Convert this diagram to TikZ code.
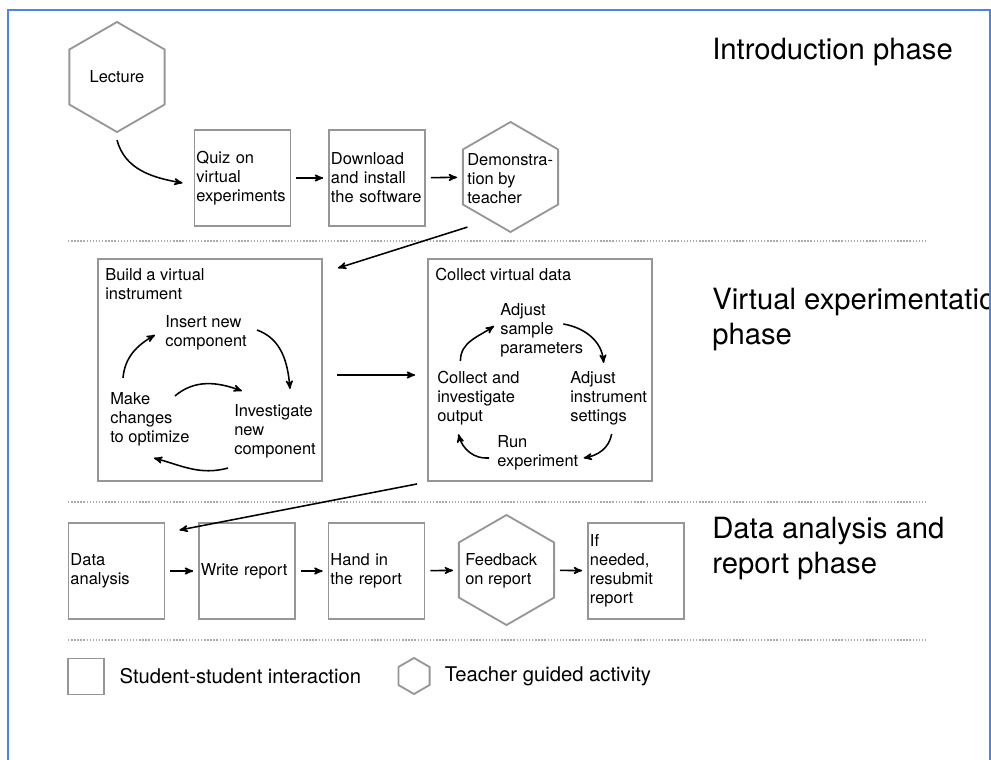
\documentclass[tikz,border=0pt]{standalone}
\usepackage{fontspec}
\setmainfont{TeX Gyre Heros}
\usetikzlibrary{arrows,shapes.geometric,positioning}

\definecolor{frameblue}{RGB}{74,134,232}
\definecolor{boxgray}{RGB}{150,150,150}
\definecolor{dotgray}{RGB}{170,170,170}
\newcommand{\cellfont}{\fontsize{11.7}{13.5}\selectfont\hyphenpenalty=10000\relax}
\newcommand{\keyfont}{\fontsize{14.4}{17}\selectfont}
\newcommand{\phasefont}{\fontsize{20.8}{24.9}\selectfont}

\begin{document}
\begin{tikzpicture}[x=0.025cm,y=0.025cm,>=stealth',
    box/.style={draw=boxgray,line width=1.3pt,minimum width=2.4cm,minimum height=2.4cm,
                text width=2.3cm,inner sep=0.05cm,align=left,font=\cellfont},
    group/.style={draw=boxgray,line width=1.3pt,minimum width=5.6cm,minimum height=5.55cm},
    hexa/.style={regular polygon,regular polygon sides=6,shape border rotate=30,
                 draw=boxgray,line width=1.3pt,minimum size=2.75cm,inner sep=0pt},
    txt/.style={align=left,inner sep=0pt,font=\cellfont},
    phase/.style={anchor=west,align=left,inner sep=0pt,font=\phasefont},
    flow/.style={->,line width=1.1pt,shorten <=3.5pt,shorten >=3.5pt},
    turn/.style={->,line width=1.1pt},
    sep/.style={draw=dotgray,line width=1pt,dash pattern=on 1pt off 1.2pt}]
  \useasboundingbox (0,0) rectangle (991,-760);

  % introduction phase
  \node[hexa,font=\cellfont] (lec) at (117,-77) {Lecture};
  \node[box] (quiz) at (242.5,-178) {Quiz on\\virtual\\experiments};
  \node[box] (down) at (377,-178) {Download\\and install\\the software};
  \node[hexa] (demo) at (510.5,-177) {};
  \node[txt,anchor=west] (demot) at (467,-179) {Demonstra-\\tion by\\teacher};
  \draw[turn] ([shift={(0,-7)}]lec.south) to[out=-75,in=170] ([shift={(-11,-5)}]quiz.west);
  \draw[flow] (quiz) -- (down);
  \draw[flow] (down) -- (demo);
  \draw[sep] (68,-241) -- (928,-241);

  % virtual experimentation phase
  \node[group] (build) at (210,-370) {};
  \node[txt,anchor=north west] (buildt) at ([shift={(8,-10)}]build.north west) {Build a virtual\\instrument};
  \node[txt,anchor=west] (ins) at (165,-333) {Insert new\\component};
  \node[txt,anchor=west] (inv) at (234,-431) {Investigate\\new\\component};
  \node[txt,anchor=west] (mak) at (110,-419) {Make\\changes\\to optimize};
  \draw[turn] ([shift={(13,14)}]mak.north west) to[out=85,in=210] ([shift={(-10,-2)}]ins.west);
  \draw[turn] ([shift={(10,3)}]ins.east) to[out=-20,in=95] ([shift={(15,15)}]inv.north);
  \draw[turn] ([shift={(-6,-10)}]inv.south west) to[out=-165,in=-15] ([shift={(4,-12)}]mak.south);
  \draw[turn] ([shift={(25,-4)}]mak.north) to[out=40,in=160] ([shift={(8,13)}]inv.north west);

  \node[group] (collect) at (540,-370) {};
  \node[txt,anchor=north west] (collectt) at ([shift={(8,-10)}]collect.north west) {Collect virtual data};
  \node[txt,anchor=west] (adjs) at (500,-330) {Adjust\\sample\\parameters};
  \node[txt,anchor=west] (adji) at (570,-398) {Adjust\\instrument\\settings};
  \node[txt,anchor=west] (run) at (497,-453) {Run\\experiment};
  \node[txt,anchor=west] (coll) at (437,-398) {Collect and\\investigate\\output};
  \draw[turn] ([shift={(-18,10)}]coll.north) to[out=90,in=215] ([shift={(-6,4)}]adjs.west);
  \draw[turn] ([shift={(-20,6)}]adjs.east) to[out=-10,in=95] ([shift={(-5,8)}]adji.north);
  \draw[turn] ([shift={(3,-9)}]adji.south) to[out=-100,in=10] ([shift={(5,-5)}]run.east);
  \draw[turn] ([shift={(-8,-5)}]run.west) to[out=185,in=-75] ([shift={(-20,-9)}]coll.south);

  \draw[turn] ([shift={(-43,6)}]demo.south) -- ([shift={(15,-10)}]build.north east);
  \draw[turn,shorten <=10pt,shorten >=8.5pt] ([shift={(0,-5)}]build.east) -- ([shift={(0,-5)}]collect.west);
  \draw[sep] (68,-502) -- (928,-502);

  % data analysis and report phase
  \node[box] (data) at (116.5,-571) {Data\\analysis};
  \node[box] (write) at (247,-571) {Write report};
  \node[box] (hand) at (376.5,-571) {Hand in\\the report};
  \node[hexa] (feed) at (506.5,-570) {};
  \node[txt,anchor=west] (feedt) at (465,-571) {Feedback\\on report};
  \node[box] (resub) at (636,-571) {If\\needed,\\resubmit\\report};
  \draw[turn] ([shift={(-10,-2)}]collect.south west) -- ([shift={(14,-8)}]data.north east);
  \draw[flow] (data) -- (write);
  \draw[flow] (write) -- (hand);
  \draw[flow] (hand) -- (feed);
  \draw[flow] (feed) -- (resub);
  \draw[sep] (68,-640) -- (928,-640);

  % legend
  \node[draw=boxgray,line width=1.3pt,minimum size=0.9cm,inner sep=0pt] (keybox) at (86,-676.5) {};
  \node[right=0.36cm of keybox,inner sep=0pt,font=\keyfont] (keyboxt) {Student-student interaction};
  \node[hexa,minimum size=0.9cm] (keyhex) at (414,-676) {};
  \node[right=0.35cm of keyhex,inner sep=0pt,font=\keyfont] (keyhext) {Teacher guided activity};

  % phase titles
  \begin{scope}
    \clip (0,0) rectangle (989,-760);
    \node[phase] (introp) at (712,-52) {Introduction phase};
    \node[phase] (virtp) at (712,-320) {Virtual experimentation\\phase};
    \node[phase] (datap) at (712,-549) {Data analysis and\\report phase};
  \end{scope}
  \draw[frameblue,line width=1.5pt] (8,-760) -- (8,-10) -- (990,-10) -- (990,-760);
\end{tikzpicture}
\end{document}
